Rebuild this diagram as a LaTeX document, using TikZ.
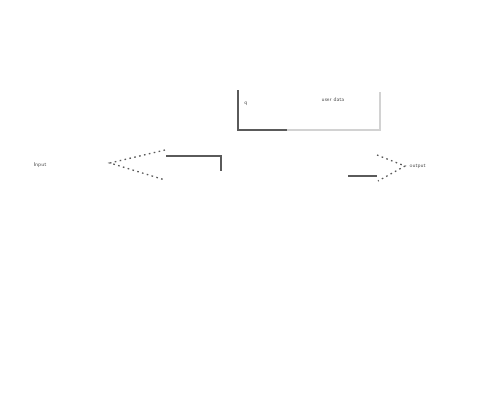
\documentclass[tikz,border=0pt]{standalone}
\usetikzlibrary{positioning}
\definecolor{dkGrey}{HTML}{5A5A5A}
\definecolor{ltGrey}{HTML}{D2D2D2}
\definecolor{txGrey}{HTML}{505050}
\tikzset{
  every picture/.append style = {line width=1.3pt},
  edgeline/.style  = {dkGrey, line width=1.6pt},
  faintline/.style = {ltGrey, line width=1.2pt},
  tipline/.style   = {dkGrey, line width=1.3pt, dash pattern=on 1.6pt off 3.4pt},
  lbl/.style       = {font=\sffamily\fontsize{5.5}{6}\selectfont, text=txGrey, inner sep=0pt},
}
\begin{document}
\begin{tikzpicture}[x=1pt, y=-1pt]
  \useasboundingbox (0,0) rectangle (491,405);
  % top box
  \coordinate (boxtl) at (238,90);
  \coordinate (boxbl) at (238,130);
  \coordinate (boxbm) at (287,130);
  \coordinate (boxbr) at (380,130);
  \coordinate (boxtr) at (380,92);
  \draw[edgeline] (boxtl) -- (boxbl) -- (boxbm);
  \draw[faintline] (boxbm) -- (boxbr) -- (boxtr);
  \node[lbl] (qmark) at (246,104) {q};
  \node[lbl] (userdata) at (333,100) {user data};
  % left: input with open arrow
  \node[lbl] (input) at (40,165) {Input};
  \coordinate (ltip) at (110,163);
  \coordinate (lup) at (165,150);
  \coordinate (ldn) at (165,180);
  \draw[tipline] (lup) -- (ltip) -- (ldn);
  \coordinate (lstart) at (166,156);
  \coordinate (lcorner) at (221,156);
  \coordinate (lend) at (221,171);
  \draw[edgeline] (lstart) -- (lcorner) -- (lend);
  % right: output with open arrow
  \coordinate (rstart) at (348,176);
  \coordinate (rend) at (377,176);
  \draw[edgeline] (rstart) -- (rend);
  \coordinate (rup) at (377,155);
  \coordinate (rtip) at (405,166);
  \coordinate (rdn) at (378,181);
  \draw[tipline] (rup) -- (rtip) -- (rdn);
  \node[lbl, right=4pt of rtip] (output) {output};
\end{tikzpicture}
\end{document}
